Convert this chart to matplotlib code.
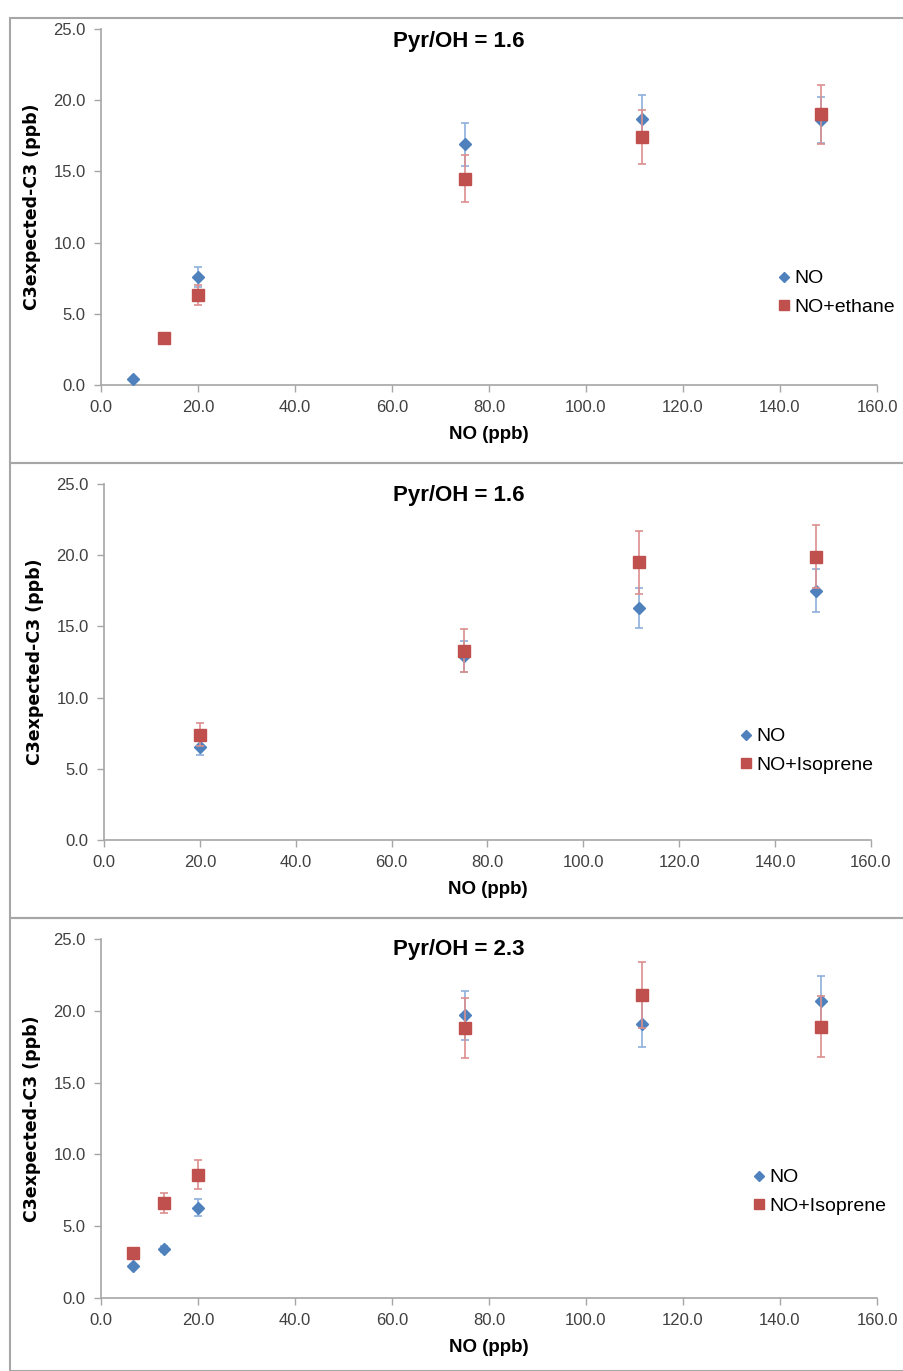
import matplotlib.pyplot as plt
from matplotlib.patches import Rectangle
from matplotlib.lines import Line2D

plt.rcParams['font.family'] = ['Liberation Sans Narrow', 'Liberation Sans', 'DejaVu Sans']

# ── Datos ──────────────────────────────────────────────────────────
titulos = ['Pyr/OH = 1.6', 'Pyr/OH = 1.6', 'Pyr/OH = 2.3']
etiquetas_b = ['NO+ethane', 'NO+Isoprene', 'NO+Isoprene']

no_x_1 = [6.5, 20.0, 75.0, 111.5, 148.5]
no_y_1 = [0.4, 7.6, 16.9, 18.7, 18.6]
no_e_1 = [0.1, 0.7, 1.5, 1.7, 1.6]
b_x_1 = [13.0, 20.0, 75.0, 111.5, 148.5]
b_y_1 = [3.3, 6.3, 14.5, 17.4, 19.0]
b_e_1 = [0.2, 0.7, 1.65, 1.9, 2.1]

no_x_2 = [20.0, 75.0, 111.5, 148.5]
no_y_2 = [6.5, 12.9, 16.3, 17.5]
no_e_2 = [0.5, 1.1, 1.4, 1.5]
b_x_2 = [20.0, 75.0, 111.5, 148.5]
b_y_2 = [7.4, 13.3, 19.5, 19.9]
b_e_2 = [0.8, 1.5, 2.2, 2.2]

no_x_3 = [6.5, 13.0, 20.0, 75.0, 111.5, 148.5]
no_y_3 = [2.2, 3.4, 6.3, 19.7, 19.1, 20.7]
no_e_3 = [0.1, 0.2, 0.6, 1.7, 1.6, 1.7]
b_x_3 = [6.5, 13.0, 20.0, 75.0, 111.5, 148.5]
b_y_3 = [3.1, 6.6, 8.6, 18.8, 21.1, 18.9]
b_e_3 = [0.2, 0.7, 1.0, 2.1, 2.3, 2.1]

paneles = [
    (no_x_1, no_y_1, no_e_1, b_x_1, b_y_1, b_e_1),
    (no_x_2, no_y_2, no_e_2, b_x_2, b_y_2, b_e_2),
    (no_x_3, no_y_3, no_e_3, b_x_3, b_y_3, b_e_3),
]

# ── Geometría en píxeles (904 x 1371) ──────────────────────────────
W, H = 904, 1371
ejes_px = [(101, 29, 877, 385), (104, 484, 871, 840), (101, 939, 877, 1298)]
titulo_px = [(459, 41), (459, 495), (459, 950)]
leyenda_px = [(765, 260), (727, 718), (740, 1159)]
bordes_px = [(10, 18, 463), (10, 463, 918), (10, 918, 1371)]

AZUL = '#4F81BD'
ROJO = '#C0504D'
GRIS = '#A6A6A6'

fig = plt.figure(figsize=(W / 100, H / 100), dpi=100)

for (x0, y0, y1) in bordes_px:
    fig.patches.append(Rectangle((x0 / W, 1 - y1 / H), (W + 5 - x0) / W, (y1 - y0) / H,
                                 transform=fig.transFigure, fill=False,
                                 edgecolor=GRIS, linewidth=1.5))

for i, (datos, (l, t, r, b)) in enumerate(zip(paneles, ejes_px)):
    nx, ny, ne, bx, by, be = datos
    ax = fig.add_axes([l / W, 1 - b / H, (r - l) / W, (b - t) / H])

    ax.errorbar(nx, ny, yerr=ne, fmt='D', color=AZUL, ms=6, mec=AZUL,
                ecolor='#8DB0DC', elinewidth=1.2, capsize=3, capthick=1.2, zorder=3)
    ax.errorbar(bx, by, yerr=be, fmt='s', color=ROJO, ms=8, mec=ROJO,
                ecolor='#DC8F8D', elinewidth=1.2, capsize=3, capthick=1.2, zorder=4)

    ax.set_xlim(0, 160)
    ax.set_ylim(0, 25)
    ax.set_xticks(range(0, 161, 20))
    ax.set_xticklabels([f'{v:.1f}' for v in range(0, 161, 20)])
    ax.set_yticks([0, 5, 10, 15, 20, 25])
    ax.set_yticklabels([f'{v:.1f}' for v in [0, 5, 10, 15, 20, 25]])
    ax.tick_params(labelsize=12, colors='#404040', length=5, width=1, color=GRIS, pad=6)
    for s in ['top', 'right']:
        ax.spines[s].set_visible(False)
    for s in ['left', 'bottom']:
        ax.spines[s].set_color(GRIS)
        ax.spines[s].set_linewidth(1.2)
    ax.patch.set_alpha(0)

    tx, ty = titulo_px[i]
    fig.text(tx / W, 1 - ty / H, titulos[i], fontsize=16, fontweight='bold',
             ha='center', va='center')
    ax.set_xlabel('NO (ppb)', fontsize=13.5, fontweight='bold', labelpad=8)
    ax.set_ylabel('C3expected-C3 (ppb)', fontsize=12.5, fontweight='bold',
                  family='DejaVu Sans', labelpad=9)

    manejadores = [
        Line2D([], [], ls='none', marker='D', color=AZUL, ms=5.5),
        Line2D([], [], ls='none', marker='s', color=ROJO, ms=7.5),
    ]
    lx, ly = leyenda_px[i]
    ax.legend(manejadores, ['NO', etiquetas_b[i]], loc='upper left',
              bbox_to_anchor=(lx / W, 1 - ly / H), bbox_transform=fig.transFigure,
              frameon=False, fontsize=14, handletextpad=0.0, handlelength=1.0,
              borderpad=0, labelspacing=0.55)

fig.savefig('out.png', dpi=100)
